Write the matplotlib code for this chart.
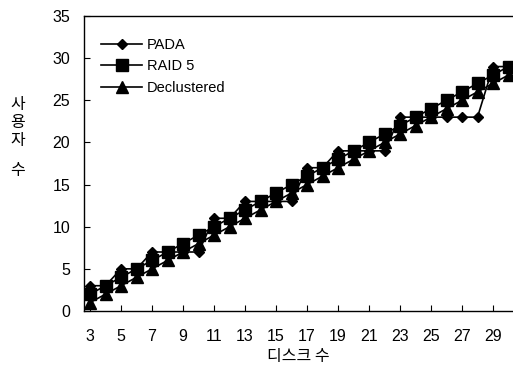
import matplotlib
matplotlib.use("Agg")
import matplotlib.pyplot as plt

disks = list(range(3, 31))
pada = [3, 3, 5, 5, 7, 7, 7, 7, 11, 11, 13, 13, 13, 13, 17, 17, 19, 19, 19, 19,
        23, 23, 23, 23, 23, 23, 29, 29]
raid5 = [2, 3, 4, 5, 6, 7, 8, 9, 10, 11, 12, 13, 14, 15, 16, 17, 18, 19, 20, 21,
         22, 23, 24, 25, 26, 27, 28, 29]
declustered = [1, 2, 3, 4, 5, 6, 7, 8, 9, 10, 11, 12, 13, 14, 15, 16, 17, 18, 19, 20,
               21, 22, 23, 24, 25, 26, 27, 28]
xticks = list(range(3, 30, 2))
yticks = list(range(0, 36, 5))

plt.rcParams['font.family'] = ['Liberation Sans', 'DejaVu Sans']

fig = plt.figure(figsize=(5.13, 3.76), dpi=100)
ax = fig.add_axes([84/513, 1-311/376, 1-84/513, (311-16)/376])

ax.plot(disks, pada, color='black', lw=1.2, marker='D', ms=5.5, label='PADA')
ax.plot(disks, raid5, color='black', lw=1.2, marker='s', ms=8, label='RAID 5')
ax.plot(disks, declustered, color='black', lw=1.2, marker='^', ms=9, label='Declustered')

ax.set_xlim(2.61, 30.29)
ax.set_ylim(0, 35)
ax.set_xticks(xticks)
ax.set_yticks(yticks)
ax.tick_params(direction='in', length=4, width=0.8, labelsize=11.5)
ax.tick_params(axis='x', pad=13)
ax.tick_params(axis='y', pad=10)
ax.spines['right'].set_visible(False)
for s in ['left', 'bottom', 'top']:
    ax.spines[s].set_linewidth(1.0)

leg = ax.legend(loc='upper left', bbox_to_anchor=(0.02, 0.955), frameon=False,
                fontsize=10.5, handlelength=2.8, handletextpad=0.3,
                labelspacing=0.5, borderaxespad=0.2)

kfont = ['Noto Sans CJK KR', 'DejaVu Sans']
fig.text(298/513, 1-356/376, '디스크 수', ha='center', va='center',
         fontsize=11.5, family=kfont)
for ch, yp in [('사', 104), ('용', 122), ('자', 140), ('수', 170)]:
    fig.text(18/513, 1-yp/376, ch, ha='center', va='center', fontsize=11.5, family=kfont)

fig.savefig('out.png', dpi=100)
